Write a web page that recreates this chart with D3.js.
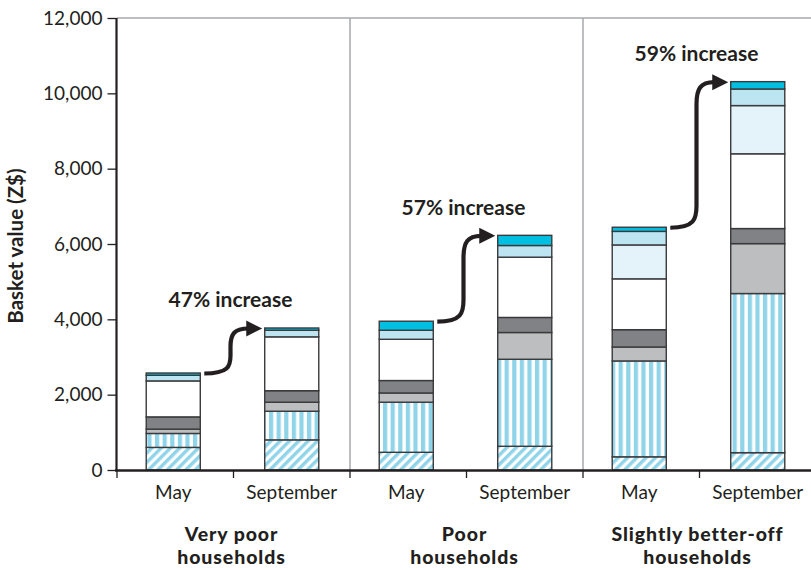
<!DOCTYPE html>
<html>
<head>
<meta charset="utf-8">
<script src="https://cdn.jsdelivr.net/npm/d3@7"></script>
<style>
  html, body { margin: 0; padding: 0; background: #fff; }
  svg { display: block; font-family: Lato, "Open Sans", sans-serif; }
</style>
</head>
<body>
<svg id="chart" width="811" height="570"></svg>
<script>
// ---------- DATA ----------
const groupNames = ["Very poor households", "Poor households", "Slightly better-off households"];
const groupLines = [["Very poor", "households"], ["Poor", "households"], ["Slightly better-off", "households"]];
const months = ["May", "September"];
const increaseLabels = ["47% increase", "57% increase", "59% increase"];
const yTicks = [0, 2000, 4000, 6000, 8000, 10000, 12000];

// component values per bar (order: VP May, VP Sep, P May, P Sep, SB May, SB Sep), bottom to top
const hatched   = [600, 800, 470, 630, 350, 460];
const striped   = [370, 760, 1330, 2310, 2545, 4225];
const lightGrey = [115, 240, 245, 710, 370, 1325];
const darkGrey  = [325, 305, 330, 400, 460, 400];
const white     = [955, 1430, 1095, 1600, 1350, 1985];
const paleBlue  = [0, 0, 0, 0, 900, 1280];
const lightBlue = [150, 175, 240, 310, 360, 440];
const cyan      = [60, 60, 240, 270, 110, 195];

const seriesKeys = ["hatched", "striped", "lightGrey", "darkGrey", "white", "paleBlue", "lightBlue", "cyan"];
const seriesValues = { hatched, striped, lightGrey, darkGrey, white, paleBlue, lightBlue, cyan };

// ---------- BUILD TABLE ----------
const bars = [];
groupNames.forEach((g, gi) => months.forEach((m, mi) => {
  const i = gi * 2 + mi;
  const row = { key: g + "|" + m, group: gi, month: m };
  seriesKeys.forEach(k => row[k] = seriesValues[k][i]);
  bars.push(row);
}));

// ---------- LAYOUT ----------
const svg = d3.select("#chart");
const x0 = 117, x1 = 816, yTop = 18, yBase = 470;
const x = d3.scaleBand().domain(bars.map(d => d.key)).range([x0, x1])
  .paddingInner(0.536).paddingOuter(0.268);
const y = d3.scaleLinear().domain([0, 12000]).range([yBase, yTop]);
const step = x.step();

const ink = "#231f20";
const stripeBlue = "#8fd4e8";
const fills = {
  hatched: "url(#hatch)",
  striped: "url(#vstripe)",
  lightGrey: "#bcbec0",
  darkGrey: "#808285",
  white: "#ffffff",
  paleBlue: "#e3f3f9",
  lightBlue: "#bce4f1",
  cyan: "#00bfe0"
};

// patterns
const defs = svg.append("defs");
const ph = defs.append("pattern").attr("id", "hatch").attr("patternUnits", "userSpaceOnUse")
  .attr("width", 6.6).attr("height", 6.6).attr("patternTransform", "rotate(45)");
ph.append("rect").attr("width", 6.6).attr("height", 6.6).attr("fill", "#fff");
ph.append("rect").attr("width", 3.4).attr("height", 6.6).attr("fill", stripeBlue);
const pv = defs.append("pattern").attr("id", "vstripe").attr("patternUnits", "userSpaceOnUse")
  .attr("width", 7.6).attr("height", 10).attr("x", x0);
pv.append("rect").attr("width", 7.6).attr("height", 10).attr("fill", "#fff");
pv.append("rect").attr("x", 0).attr("width", 4.2).attr("height", 10).attr("fill", stripeBlue);

// top border & separators
svg.append("line").attr("x1", x0).attr("x2", 811).attr("y1", y(12000)).attr("y2", y(12000))
  .attr("stroke", "#a7a9ac").attr("stroke-width", 1.5);
[1, 2].forEach(k => {
  const sx = x0 + step * 2 * k;
  svg.append("line").attr("x1", sx).attr("x2", sx).attr("y1", y(12000)).attr("y2", y(0))
    .attr("stroke", "#a7a9ac").attr("stroke-width", 1.5);
});

// stacked bars
const stack = d3.stack().keys(seriesKeys);
const stacked = stack(bars);
const gBars = svg.append("g");
const barX = d => x(d.key) + (d.month === "May" ? -2 : 0);
stacked.forEach(layer => {
  gBars.selectAll(null).data(layer.filter(d => d[1] - d[0] > 0)).join("rect")
    .attr("x", d => barX(d.data))
    .attr("width", x.bandwidth())
    .attr("y", d => y(d[1]))
    .attr("height", d => y(d[0]) - y(d[1]))
    .attr("fill", fills[layer.key])
    .attr("stroke", "#3a3a3c")
    .attr("stroke-width", 1.4);
});

// y axis
const yAxis = d3.axisLeft(y).tickValues(yTicks).tickFormat(d3.format(",")).tickSize(9).tickPadding(5);
const ga = svg.append("g").attr("transform", `translate(${x0 - 0.5},0)`).call(yAxis);
ga.select(".domain").attr("stroke", ink).attr("stroke-width", 2.2).attr("d", `M0,${yTop}V${yBase}`);
ga.selectAll(".tick line").attr("stroke", ink).attr("stroke-width", 1.3);
ga.selectAll(".tick text").attr("fill", ink).style("font-size", "19px").style("font-family", "Lato");

// x baseline + ticks
svg.append("line").attr("x1", x0 - 2).attr("x2", 811).attr("y1", yBase + 0.5).attr("y2", yBase + 0.5)
  .attr("stroke", ink).attr("stroke-width", 2.4);
d3.range(0, 7).forEach(k => {
  const tx = x0 + step * k;
  svg.append("line").attr("x1", tx).attr("x2", tx).attr("y1", yBase).attr("y2", yBase + 8)
    .attr("stroke", ink).attr("stroke-width", 1.3);
});

// month labels
svg.append("g").selectAll("text").data(bars).join("text")
  .attr("x", d => barX(d) + x.bandwidth() / 2)
  .attr("y", 498.5)
  .attr("text-anchor", "middle")
  .attr("fill", ink)
  .style("font-size", "19px")
  .text(d => d.month);

// group labels
groupLines.forEach((lines, gi) => {
  const cx = x0 + step * (2 * gi + 1) - 2;
  lines.forEach((t, li) => {
    svg.append("text").attr("x", cx).attr("y", 540.5 + li * 23.5)
      .attr("text-anchor", "middle").attr("fill", ink)
      .style("font-size", "19.5px").style("font-weight", "900")
      .style("letter-spacing", "0.9px")
      .text(t);
  });
});

// y title
svg.append("text")
  .attr("transform", `translate(23,${(yTop + yBase) / 2 + 2}) rotate(-90)`)
  .attr("text-anchor", "middle").attr("fill", ink)
  .style("font-size", "20.5px").style("font-weight", "bold")
  .text("Basket value (Z$)");

// arrows + increase labels
const totals = bars.map(d => seriesKeys.reduce((s, k) => s + d[k], 0));
groupNames.forEach((g, gi) => {
  const a = bars[gi * 2], b = bars[gi * 2 + 1];
  const sx = barX(a) + x.bandwidth() + 4;
  const sy = y(totals[gi * 2]) + 0.5;
  const ex = barX(b) - 2.5;
  const ey = y(totals[gi * 2 + 1]) + 0.5;
  const vx = (barX(a) + x.bandwidth() + barX(b)) / 2 - 2;
  const headL = 16, headH = 8;
  const lineEnd = ex - headL + 2;
  const r1 = Math.min(22, (sy - ey) / 2.5);
  const path = d3.path();
  path.moveTo(sx, sy);
  path.bezierCurveTo(vx - 2, sy, vx, sy - r1 * 0.4, vx, sy - r1);
  path.lineTo(vx, ey + r1);
  path.bezierCurveTo(vx, ey + r1 * 0.3, vx + 4, ey, lineEnd, ey);
  svg.append("path").attr("d", path.toString()).attr("fill", "none")
    .attr("stroke", ink).attr("stroke-width", 4.2);
  svg.append("path")
    .attr("d", `M${ex},${ey}L${ex - headL},${ey - headH}L${ex - headL},${ey + headH}Z`)
    .attr("fill", ink);
  svg.append("text").attr("x", vx).attr("y", ey - 21)
    .attr("text-anchor", "middle").attr("fill", ink)
    .style("font-size", "21px").style("font-weight", "bold")
    .text(increaseLabels[gi]);
});
</script>
</body>
</html>
